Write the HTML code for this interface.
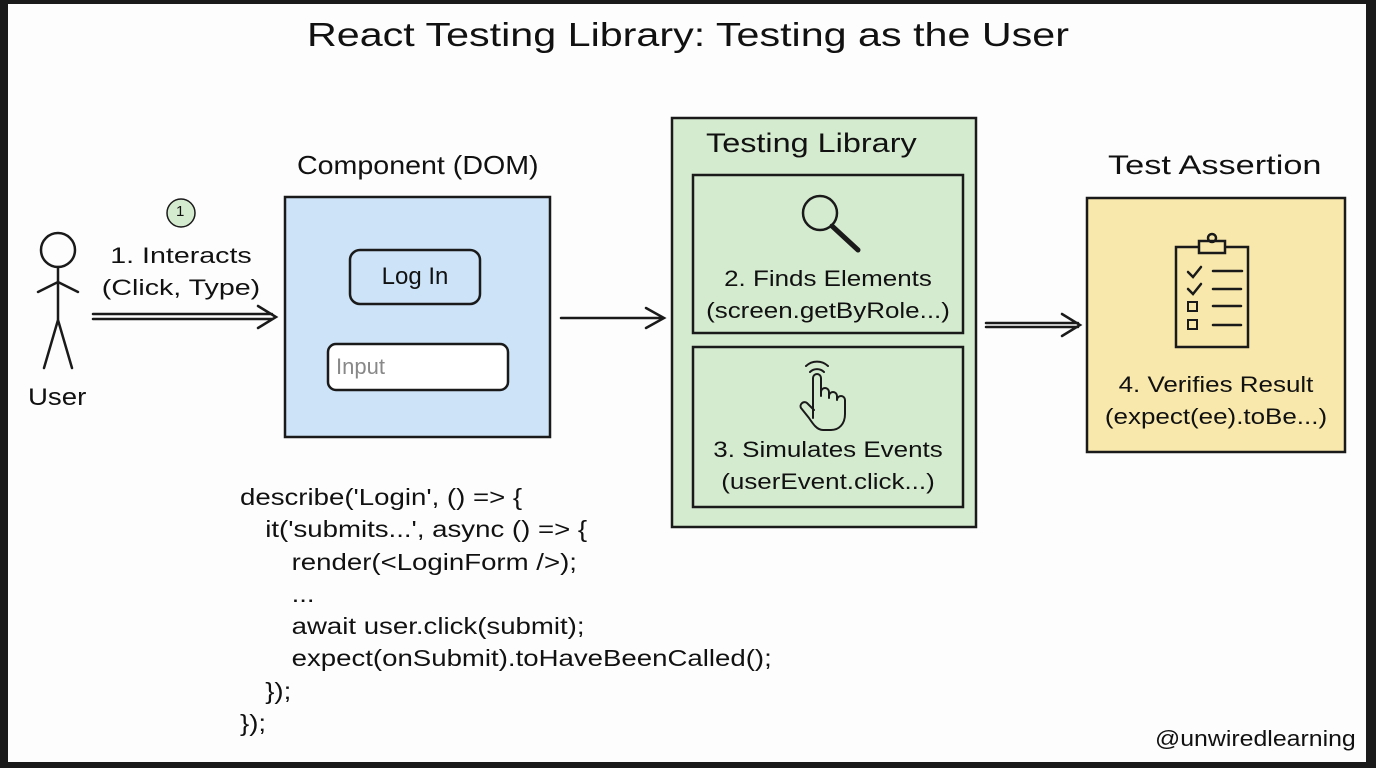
<!DOCTYPE html>
<html><head><meta charset="utf-8"><style>
body{margin:0;width:1376px;height:768px;overflow:hidden;background:#1a1a1a;font-family:"Liberation Sans",sans-serif;}
#c{position:absolute;left:8px;top:4px;width:1358px;height:758px;background:#fdfdfd;}
.t{position:absolute;color:#111;white-space:nowrap;}
.w{transform:scaleX(1.18);transform-origin:center;}
.l{transform-origin:left;}
</style></head><body>
<div id="c"></div>
<svg width="1376" height="768" style="position:absolute;left:0;top:0" fill="none" stroke="#1a1a1a" stroke-width="2.5" stroke-linecap="round">
<rect x="285" y="197" width="265" height="240" fill="#cce3f8"/>
<rect x="350" y="250" width="130" height="54" rx="10" fill="#cce3f8"/>
<rect x="328" y="344" width="180" height="46" rx="8" fill="#fff"/>
<rect x="672" y="118" width="304" height="409" fill="#d5ebd0"/>
<rect x="693" y="175" width="270" height="158" fill="#d5ebd0"/>
<rect x="693" y="347" width="270" height="160" fill="#d5ebd0"/>
<rect x="1087" y="198" width="258" height="254" fill="#f8e8ac"/>
<circle cx="181" cy="213" r="14" fill="#d5ebd0" stroke-width="1.5"/>
<circle cx="58" cy="250" r="17"/>
<path d="M58 267V320M58 320L44 368M58 320L72 368M38 292L58 282L78 292"/>
<path d="M93 314H272M93 319H272M258 306L276 317L258 328"/>
<path d="M561 318H662M646 308L664 318L646 328"/>
<path d="M986 323H1078M986 327H1078M1062 314L1080 325L1062 336"/>
<circle cx="820" cy="213" r="17"/><path d="M832 226L858 250" stroke-width="5"/>
<path d="M813 418V378a4 4 0 0 1 8 0V396M821 392a4 4 0 0 1 8 0v6M829 396a4 4 0 0 1 8 0v4M837 400a4 4 0 0 1 8 0v14c0 10-6 16-14 16h-8c-6 0-10-6-14-12l-8-10a4 4 0 0 1 6-5l7 7M810 372a10 10 0 0 1 14 0M806 366a16 16 0 0 1 22 0" stroke-width="2"/>
<rect x="1176" y="247" width="72" height="100" fill="#f8e8ac"/>
<rect x="1199" y="241" width="26" height="12" fill="#f8e8ac"/><circle cx="1212" cy="238" r="4"/>
<path d="M1188 272l5 5 8-10M1188 289l5 5 8-10M1213 271H1242M1213 289H1241M1213 306H1241M1213 325H1241"/>
<rect x="1188" y="302" width="9" height="9" stroke-width="2"/><rect x="1188" y="320" width="9" height="9" stroke-width="2"/>
</svg>
<div class="t" style="left:0;width:1376px;top:16px;text-align:center;font-size:33px;transform:scaleX(1.25)">React Testing Library: Testing as the User</div>
<div class="t l" style="left:297px;top:150px;font-size:26px;transform:scaleX(1.1)">Component (DOM)</div>
<div class="t l" style="left:706px;top:128px;font-size:27px;transform:scaleX(1.2)">Testing Library</div>
<div class="t l" style="left:1108px;top:150px;font-size:27px;transform:scaleX(1.27)">Test Assertion</div>
<div class="t" style="left:176px;top:203px;font-size:15px">1</div>
<div class="t" style="left:95px;top:240px;width:172px;text-align:center;font-size:22px;line-height:32px;transform:scaleX(1.3)">1. Interacts<br>(Click, Type)</div>
<div class="t l" style="left:28px;top:384px;font-size:24px;transform:scaleX(1.15)">User</div>
<div class="t" style="left:350px;top:263px;width:130px;text-align:center;font-size:24px">Log In</div>
<div class="t" style="left:336px;top:354px;font-size:22px;color:#888">Input</div>
<div class="t w" style="left:693px;top:263px;width:270px;text-align:center;font-size:22px;line-height:32px">2. Finds Elements<br>(screen.getByRole...)</div>
<div class="t w" style="left:693px;top:434px;width:270px;text-align:center;font-size:22px;line-height:32px">3. Simulates Events<br>(userEvent.click...)</div>
<div class="t w" style="left:1087px;top:369px;width:258px;text-align:center;font-size:22px;line-height:32px">4. Verifies Result<br>(expect(ee).toBe...)</div>
<div class="t l" style="left:240px;top:481px;font-size:23px;line-height:32.3px;transform:scaleX(1.2)">
<div>describe('Login', () =&gt; {</div>
<div style="padding-left:21px">it('submits...', async () =&gt; {</div>
<div style="padding-left:43px">render(&lt;LoginForm /&gt;);</div>
<div style="padding-left:43px">...</div>
<div style="padding-left:43px">await user.click(submit);</div>
<div style="padding-left:43px">expect(onSubmit).toHaveBeenCalled();</div>
<div style="padding-left:21px">});</div>
<div>});</div>
</div>
<div class="t l" style="left:1155px;top:726px;font-size:22px;transform:scaleX(1.13)">@unwiredlearning</div>
</body></html>
